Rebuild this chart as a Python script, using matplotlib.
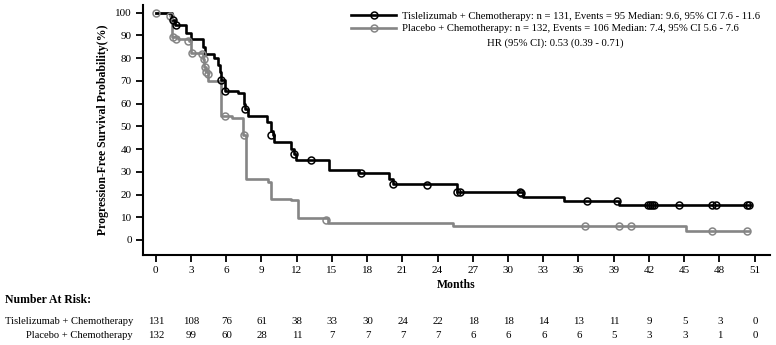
import matplotlib
matplotlib.use("Agg")
from matplotlib import pyplot as plt
from matplotlib.lines import Line2D

plt.rcParams['font.family'] = ['Liberation Serif', 'DejaVu Serif']

# Kaplan-Meier steps (month of drop, survival % after drop)
tis_t = [0, 1.4, 1.65, 2.6, 3.0, 4.0, 4.2, 5.0, 5.3, 5.5, 5.6, 5.9, 7.0, 7.5, 7.6, 7.85, 9.5, 9.8, 9.95,
         10.1, 11.5, 11.8, 11.95, 14.75, 17.3, 19.9, 20.2, 25.7, 31.25, 34.8, 39.5, 50.7]
tis_s = [100, 97, 94.5, 91, 88.3, 85, 82, 80, 77, 74, 70.5, 65.7, 64.8, 60, 57.7, 54.7, 52, 48, 46,
         43, 40, 37.7, 35, 31, 29.5, 27, 24.5, 21.1, 18.7, 17.2, 15.3, 15.3]
tis_cens_t = [1.5, 1.7, 5.6, 5.93, 7.63, 9.85, 11.77, 13.25, 17.45, 20.25, 23.1, 25.7, 25.95, 31.0, 31.15,
              36.7, 39.3, 41.95, 42.1, 42.25, 42.4, 44.6, 47.4, 47.7, 50.4, 50.55]
tis_cens_s = [97, 94.5, 70.5, 65.7, 57.7, 46, 37.7, 35, 29.5, 24.5, 24.3, 21.1, 21.1, 21.1, 20.5,
              17.2, 17.2, 15.3, 15.3, 15.3, 15.3, 15.3, 15.3, 15.3, 15.3, 15.3]

pbo_t = [0, 1.2, 1.4, 1.9, 2.8, 3.0, 4.0, 4.15, 4.3, 4.45, 5.6, 6.5, 7.4, 7.7, 9.6, 9.85,
         11.5, 12.1, 14.7, 25.3, 45.2, 50.5]
pbo_s = [100, 98.5, 89.3, 88.3, 87.6, 82.5, 79.5, 76, 74, 70, 54.7, 53.5, 46, 27, 25.5, 18.1,
         17.5, 9.5, 7.3, 6.1, 4.1, 4.1]
pbo_cens_t = [0.05, 1.2, 1.5, 1.76, 2.75, 3.1, 3.97, 4.1, 4.2, 4.3, 4.45, 5.87, 7.5, 14.5,
              36.6, 39.5, 40.5, 47.4, 50.4]
pbo_cens_s = [100, 98.5, 89.3, 88.3, 87.6, 82.2, 82, 79.5, 76, 74, 73, 54.7, 46, 8.8,
              6.1, 6.1, 6.1, 4.1, 4.1]

risk_months = list(range(0, 52, 3))
risk_tis = [131, 108, 76, 61, 38, 33, 30, 24, 22, 18, 18, 14, 13, 11, 9, 5, 3, 0]
risk_pbo = [132, 99, 60, 28, 11, 7, 7, 7, 7, 6, 6, 6, 6, 5, 3, 3, 1, 0]

tis_label = 'Tislelizumab + Chemotherapy: n = 131, Events = 95 Median: 9.6, 95% CI 7.6 - 11.6'
pbo_label = 'Placebo + Chemotherapy: n = 132, Events = 106 Median: 7.4, 95% CI 5.6 - 7.6'
hr_text = 'HR (95% CI): 0.53 (0.39 - 0.71)'

black = '#000000'
grey = '#858585'

fig = plt.figure(figsize=(7.76, 3.45), dpi=100)
ax = fig.add_axes([0.184, 0.261, 0.808, 0.725])

ax.plot(tis_t, tis_s, drawstyle='steps-post', color=black, lw=1.9, zorder=3)
ax.plot(pbo_t, pbo_s, drawstyle='steps-post', color=grey, lw=1.9, zorder=2)
ax.plot(tis_cens_t, tis_cens_s, 'o', mfc='none', mec=black, ms=5, mew=1.1, zorder=4)
ax.plot(pbo_cens_t, pbo_cens_s, 'o', mfc='none', mec=grey, ms=5, mew=1.1, zorder=3)

ax.set_xlim(-1.1, 52.3)
ax.set_ylim(-6.6, 103.5)
ax.set_xticks(risk_months)
ax.set_yticks(range(0, 101, 10))
ax.tick_params(direction='out', length=5, width=1.3, labelsize=8, pad=3)
for s in ['top', 'right']:
    ax.spines[s].set_visible(False)
for s in ['left', 'bottom']:
    ax.spines[s].set_linewidth(1.5)

ax.set_xlabel('Months', fontsize=8.5, fontweight='bold', labelpad=3)
ax.set_ylabel('Progression-Free Survival Probability(%)', fontsize=8.5, fontweight='bold', labelpad=4)

handles = [
    Line2D([], [], color=black, lw=1.9, marker='o', mfc='none', mec=black, ms=5, mew=1.1),
    Line2D([], [], color=grey, lw=1.9, marker='o', mfc='none', mec=grey, ms=5, mew=1.1),
]
ax.legend(handles, [tis_label, pbo_label], loc='upper right', bbox_to_anchor=(0.995, 1.0),
          frameon=False, fontsize=7.7, handlelength=4.2, handletextpad=0.55,
          labelspacing=0.3, numpoints=1, borderaxespad=0.2)
fig.text(555 / 776, 1 - 43 / 345, hr_text, fontsize=7.7, ha='center', va='center')

# number at risk table
def xfig(m):
    return (156 + m * 11.75) / 776

fig.text(5 / 776, 1 - 300 / 345, 'Number At Risk:', fontsize=8.5, fontweight='bold', va='center')
fig.text(133 / 776, 1 - 322 / 345, 'Tislelizumab + Chemotherapy', fontsize=7.6, ha='right', va='center')
fig.text(133 / 776, 1 - 336 / 345, 'Placebo + Chemotherapy', fontsize=7.6, ha='right', va='center')
for m, a, b in zip(risk_months, risk_tis, risk_pbo):
    fig.text(xfig(m), 1 - 322 / 345, str(a), fontsize=7.8, ha='center', va='center')
    fig.text(xfig(m), 1 - 336 / 345, str(b), fontsize=7.8, ha='center', va='center')

fig.savefig('out.png', dpi=100)
